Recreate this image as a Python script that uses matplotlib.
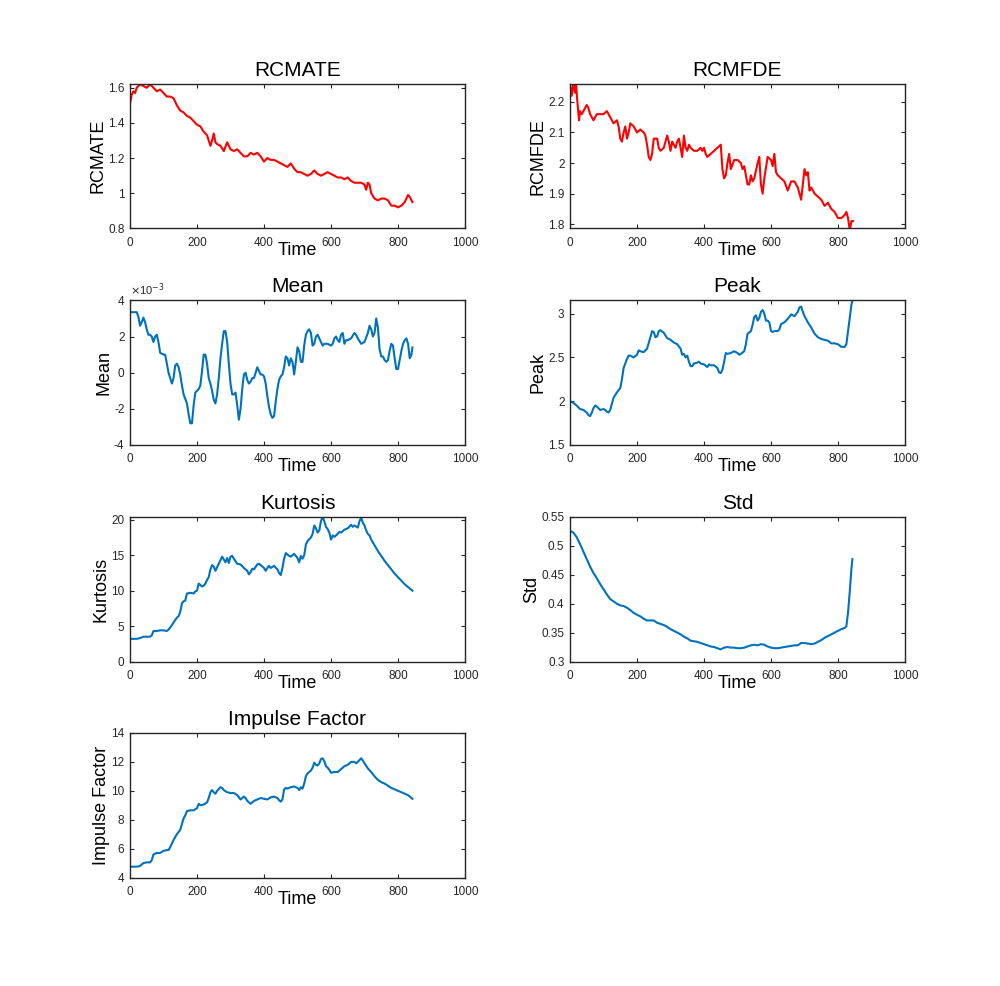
import matplotlib
matplotlib.use('Agg')
import matplotlib.pyplot as plt
from matplotlib.ticker import FuncFormatter

plt.rcParams['font.family'] = ['Liberation Sans', 'DejaVu Sans']
plt.rcParams['axes.unicode_minus'] = False

# (time, value) pairs
rcmate = [(0, 1.51), (5, 1.56), (10, 1.58), (15, 1.57), (20, 1.60), (25, 1.61), (30, 1.62),
          (40, 1.61), (50, 1.60), (60, 1.62), (70, 1.60), (80, 1.58), (90, 1.59), (100, 1.57),
          (110, 1.55), (120, 1.55), (130, 1.54), (140, 1.50), (150, 1.47), (160, 1.46),
          (170, 1.44), (180, 1.43), (190, 1.41), (200, 1.39), (210, 1.38), (220, 1.35),
          (230, 1.33), (240, 1.27), (245, 1.30), (250, 1.34), (255, 1.29), (260, 1.28),
          (270, 1.27), (280, 1.24), (290, 1.29), (300, 1.25), (310, 1.24), (320, 1.25),
          (330, 1.23), (340, 1.21), (350, 1.21), (360, 1.23), (370, 1.22), (380, 1.23),
          (390, 1.21), (400, 1.18), (410, 1.20), (420, 1.19), (430, 1.19), (440, 1.18),
          (450, 1.17), (460, 1.16), (470, 1.15), (480, 1.17), (490, 1.14), (500, 1.12),
          (510, 1.12), (520, 1.11), (530, 1.10), (540, 1.11), (550, 1.13), (560, 1.11),
          (570, 1.10), (580, 1.11), (590, 1.12), (600, 1.11), (610, 1.10), (620, 1.09),
          (630, 1.09), (640, 1.08), (650, 1.09), (660, 1.07), (670, 1.06), (680, 1.06),
          (690, 1.06), (700, 1.05), (705, 1.02), (710, 1.06), (715, 1.05), (720, 1.00),
          (730, 0.97), (740, 0.96), (750, 0.97), (760, 0.97), (770, 0.96), (780, 0.93),
          (790, 0.93), (800, 0.92), (810, 0.93), (820, 0.95), (830, 0.99), (835, 0.98),
          (843, 0.95)]

rcmfde = [(0, 2.26), (5, 2.22), (10, 2.26), (15, 2.23), (18, 2.26), (22, 2.20), (27, 2.14),
          (30, 2.17), (35, 2.16), (40, 2.17), (45, 2.18), (50, 2.19), (55, 2.18), (60, 2.16),
          (70, 2.14), (80, 2.16), (90, 2.16), (100, 2.16), (110, 2.17), (120, 2.15),
          (130, 2.13), (140, 2.14), (145, 2.12), (150, 2.08), (155, 2.07), (160, 2.10),
          (165, 2.12), (170, 2.08), (175, 2.10), (180, 2.13), (190, 2.12), (200, 2.10),
          (210, 2.11), (220, 2.10), (225, 2.09), (230, 2.06), (235, 2.02), (240, 2.01),
          (245, 2.03), (250, 2.08), (260, 2.08), (265, 2.05), (270, 2.04), (280, 2.05),
          (290, 2.09), (295, 2.07), (300, 2.04), (305, 2.07), (310, 2.06), (315, 2.05),
          (320, 2.07), (325, 2.08), (330, 2.05), (335, 2.02), (340, 2.09), (345, 2.05),
          (350, 2.04), (355, 2.06), (360, 2.05), (370, 2.04), (380, 2.04), (390, 2.05),
          (395, 2.04), (400, 2.05), (405, 2.03), (410, 2.02), (420, 2.03), (430, 2.04),
          (440, 2.05), (450, 2.06), (455, 1.98), (460, 1.95), (465, 1.96), (470, 2.00),
          (475, 2.03), (480, 1.98), (490, 2.01), (500, 2.01), (510, 2.00), (515, 1.98),
          (520, 1.99), (530, 1.93), (535, 1.93), (540, 1.96), (545, 1.94), (550, 1.95),
          (560, 2.00), (565, 2.02), (570, 1.93), (575, 1.90), (580, 1.95), (590, 2.02),
          (600, 2.01), (605, 1.99), (610, 2.03), (615, 1.97), (620, 1.96), (630, 1.95),
          (640, 1.94), (650, 1.91), (660, 1.94), (670, 1.94), (680, 1.92), (690, 1.88),
          (700, 1.98), (705, 1.96), (710, 1.97), (715, 1.91), (720, 1.92), (725, 1.91),
          (730, 1.90), (740, 1.89), (750, 1.88), (760, 1.86), (770, 1.87), (780, 1.85),
          (790, 1.84), (800, 1.82), (810, 1.82), (820, 1.83), (825, 1.84), (830, 1.82),
          (835, 1.78), (840, 1.81), (845, 1.81)]

# values in units of 1e-3
mean_e3 = [(0, 3.35), (10, 3.35), (20, 3.35), (25, 3.1), (30, 2.6), (35, 2.8), (40, 3.05),
           (45, 2.8), (50, 2.4), (55, 2.1), (60, 2.1), (65, 2.0), (70, 1.7), (75, 2.0),
           (80, 2.1), (85, 1.7), (90, 1.1), (100, 1.0), (105, 1.0), (110, 0.5), (115, 0.0),
           (120, -0.3), (125, -0.6), (130, -0.3), (135, 0.4), (140, 0.5), (145, 0.3),
           (150, -0.1), (155, -0.7), (160, -1.2), (170, -1.7), (175, -2.3), (180, -2.8),
           (185, -2.8), (190, -1.8), (195, -1.1), (205, -0.9), (210, -0.7), (215, 0.1),
           (220, 1.0), (225, 1.0), (230, 0.5), (235, -0.3), (240, -0.6), (245, -1.0),
           (250, -1.5), (255, -1.7), (260, -1.2), (265, -0.3), (270, 0.8), (275, 1.6),
           (280, 2.3), (285, 2.3), (290, 1.7), (295, 0.5), (300, -0.6), (305, -1.2),
           (310, -1.2), (315, -1.1), (320, -1.8), (325, -2.6), (330, -2.0), (335, -0.9),
           (340, -0.1), (345, 0.0), (350, -0.4), (355, -0.6), (360, -0.5), (365, -0.3),
           (370, -0.3), (375, 0.0), (380, 0.3), (385, 0.1), (390, -0.1), (395, -0.1),
           (400, -0.2), (405, -0.6), (410, -1.3), (415, -1.9), (420, -2.3), (425, -2.5),
           (430, -2.4), (435, -1.6), (440, -0.9), (445, -0.4), (450, -0.2), (455, -0.1),
           (460, 0.3), (465, 0.9), (470, 0.8), (475, 0.4), (480, 0.8), (485, 0.6),
           (490, -0.1), (495, 0.6), (500, 1.4), (505, 1.2), (510, 0.6), (515, 0.6),
           (520, 1.5), (525, 2.1), (530, 2.3), (535, 2.4), (540, 2.2), (545, 1.5),
           (550, 1.6), (555, 2.0), (560, 2.1), (565, 1.9), (570, 1.7), (575, 1.5),
           (580, 1.6), (590, 1.6), (600, 1.5), (605, 1.6), (610, 1.9), (615, 2.0),
           (620, 1.8), (625, 1.7), (630, 2.1), (635, 2.2), (640, 1.6), (645, 1.8),
           (650, 1.8), (660, 1.9), (670, 2.2), (675, 2.1), (680, 1.9), (690, 1.6),
           (700, 1.7), (710, 2.2), (715, 2.6), (720, 2.4), (725, 2.0), (730, 2.2),
           (735, 3.0), (740, 2.5), (745, 1.3), (750, 0.9), (755, 0.9), (760, 0.7),
           (765, 0.6), (770, 0.7), (775, 1.2), (780, 1.6), (785, 1.5), (790, 0.8),
           (795, 0.2), (800, 0.2), (805, 0.7), (810, 1.2), (815, 1.6), (820, 1.8),
           (825, 1.9), (830, 1.6), (835, 0.8), (840, 1.0), (843, 1.4)]

peak = [(0, 2.00), (10, 1.98), (20, 1.95), (30, 1.91), (40, 1.90), (50, 1.87), (55, 1.84),
        (60, 1.83), (65, 1.87), (70, 1.92), (75, 1.95), (80, 1.94), (90, 1.90), (100, 1.91),
        (105, 1.90), (110, 1.88), (115, 1.87), (120, 1.90), (125, 1.97), (130, 2.04),
        (140, 2.10), (150, 2.15), (155, 2.25), (160, 2.38), (170, 2.48), (175, 2.52),
        (180, 2.52), (190, 2.50), (200, 2.53), (205, 2.58), (210, 2.57), (220, 2.56),
        (230, 2.60), (240, 2.73), (245, 2.80), (250, 2.79), (255, 2.73), (260, 2.74),
        (265, 2.80), (270, 2.81), (280, 2.78), (290, 2.72), (300, 2.70), (310, 2.67),
        (320, 2.65), (330, 2.60), (335, 2.53), (340, 2.54), (345, 2.50), (350, 2.52),
        (355, 2.45), (360, 2.40), (365, 2.40), (370, 2.43), (380, 2.44), (385, 2.45),
        (390, 2.43), (400, 2.42), (410, 2.39), (415, 2.42), (420, 2.41), (430, 2.41),
        (440, 2.38), (445, 2.33), (450, 2.32), (455, 2.36), (460, 2.45), (465, 2.55),
        (470, 2.54), (480, 2.55), (490, 2.57), (500, 2.55), (505, 2.53), (510, 2.54),
        (520, 2.57), (525, 2.65), (530, 2.77), (540, 2.80), (545, 2.87), (550, 2.96),
        (555, 2.98), (560, 2.92), (565, 2.95), (570, 3.02), (575, 3.04), (580, 3.00),
        (585, 2.92), (590, 2.92), (595, 2.90), (600, 2.80), (605, 2.79), (610, 2.80),
        (620, 2.80), (625, 2.82), (630, 2.88), (640, 2.90), (650, 2.94), (660, 2.99),
        (670, 2.97), (680, 3.02), (685, 3.07), (690, 3.08), (695, 3.02), (700, 2.97),
        (710, 2.90), (720, 2.84), (730, 2.77), (740, 2.73), (750, 2.71), (760, 2.70),
        (770, 2.69), (780, 2.66), (790, 2.66), (800, 2.65), (810, 2.62), (820, 2.62),
        (825, 2.65), (830, 2.80), (835, 2.95), (840, 3.10), (843, 3.15)]

kurtosis = [(0, 3.2), (10, 3.2), (20, 3.2), (30, 3.3), (40, 3.5), (50, 3.5), (60, 3.5),
            (65, 3.7), (70, 4.3), (80, 4.3), (90, 4.4), (100, 4.4), (110, 4.3), (115, 4.5),
            (120, 4.8), (130, 5.5), (140, 6.2), (145, 6.4), (150, 7.0), (155, 8.2),
            (160, 8.5), (165, 8.6), (170, 9.6), (180, 9.7), (190, 9.6), (195, 9.9),
            (200, 10.0), (205, 11.0), (210, 10.8), (215, 10.6), (220, 10.7), (225, 11.0),
            (230, 11.5), (235, 11.9), (240, 13.0), (245, 13.6), (250, 13.4), (255, 12.8),
            (260, 13.3), (270, 14.3), (275, 14.8), (280, 14.4), (285, 14.0), (290, 14.6),
            (295, 13.9), (300, 14.8), (305, 14.9), (310, 14.5), (320, 13.8), (330, 13.7),
            (340, 13.2), (350, 12.8), (355, 12.3), (360, 12.6), (365, 13.1), (370, 13.0),
            (380, 13.7), (385, 13.8), (390, 13.6), (400, 13.2), (405, 12.8), (410, 13.2),
            (415, 13.5), (420, 13.2), (430, 13.5), (440, 13.0), (445, 12.5), (450, 12.2),
            (455, 13.2), (460, 14.5), (465, 15.3), (470, 15.1), (475, 14.9), (480, 14.8),
            (490, 15.2), (500, 14.6), (505, 14.0), (510, 14.9), (515, 14.5), (520, 15.0),
            (525, 16.5), (530, 17.0), (540, 17.5), (545, 18.0), (550, 19.2), (555, 18.8),
            (560, 18.2), (565, 18.5), (570, 19.8), (575, 20.4), (580, 19.8), (585, 19.0),
            (590, 18.7), (595, 18.2), (600, 17.2), (605, 17.8), (610, 17.6), (620, 18.0),
            (625, 18.3), (630, 18.2), (640, 18.6), (650, 18.8), (660, 19.3), (665, 19.0),
            (670, 19.2), (680, 18.9), (685, 19.8), (690, 20.3), (695, 19.6), (700, 19.2),
            (705, 18.5), (710, 18.0), (715, 17.8), (720, 17.2), (730, 16.4), (740, 15.6),
            (750, 14.9), (760, 14.2), (770, 13.6), (780, 13.0), (790, 12.4), (800, 11.9),
            (810, 11.4), (820, 10.9), (830, 10.5), (843, 10.0)]

std = [(0, 0.526), (10, 0.523), (20, 0.515), (30, 0.503), (40, 0.490), (50, 0.477),
       (60, 0.464), (70, 0.453), (80, 0.444), (90, 0.434), (100, 0.425), (110, 0.416),
       (120, 0.408), (130, 0.404), (140, 0.400), (150, 0.397), (160, 0.396), (170, 0.393),
       (180, 0.389), (190, 0.384), (200, 0.381), (210, 0.378), (220, 0.374), (230, 0.371),
       (240, 0.371), (250, 0.371), (260, 0.367), (270, 0.365), (280, 0.363), (290, 0.360),
       (300, 0.356), (310, 0.353), (320, 0.350), (330, 0.347), (340, 0.343), (350, 0.340),
       (360, 0.336), (370, 0.335), (380, 0.334), (390, 0.332), (400, 0.330), (410, 0.328),
       (420, 0.326), (430, 0.325), (440, 0.323), (450, 0.321), (460, 0.324), (470, 0.325),
       (480, 0.324), (490, 0.324), (500, 0.323), (510, 0.323), (520, 0.324), (530, 0.326),
       (540, 0.328), (550, 0.329), (560, 0.328), (570, 0.330), (580, 0.329), (590, 0.326),
       (600, 0.324), (610, 0.323), (620, 0.323), (630, 0.324), (640, 0.325), (650, 0.326),
       (660, 0.327), (670, 0.328), (680, 0.328), (690, 0.332), (700, 0.332), (710, 0.331),
       (720, 0.330), (730, 0.331), (740, 0.334), (750, 0.337), (760, 0.341), (770, 0.344),
       (780, 0.347), (790, 0.350), (800, 0.353), (810, 0.356), (820, 0.358), (825, 0.361),
       (830, 0.385), (835, 0.420), (840, 0.460), (843, 0.477)]

impulse = [(0, 4.75), (10, 4.75), (20, 4.75), (30, 4.8), (40, 5.0), (50, 5.05), (60, 5.05),
           (65, 5.2), (70, 5.6), (80, 5.7), (90, 5.7), (100, 5.85), (110, 5.9), (115, 5.9),
           (120, 6.1), (130, 6.6), (140, 7.0), (150, 7.3), (155, 7.7), (160, 8.1),
           (165, 8.3), (170, 8.6), (180, 8.65), (190, 8.65), (200, 8.8), (205, 9.1),
           (210, 9.0), (220, 9.05), (230, 9.2), (235, 9.5), (240, 9.9), (245, 10.05),
           (250, 9.9), (255, 9.8), (260, 10.0), (270, 10.25), (275, 10.2), (280, 10.05),
           (290, 9.9), (300, 9.85), (310, 9.85), (320, 9.7), (330, 9.4), (340, 9.6),
           (345, 9.5), (350, 9.3), (360, 9.1), (365, 9.2), (370, 9.3), (380, 9.4),
           (390, 9.5), (400, 9.45), (410, 9.4), (420, 9.55), (430, 9.6), (440, 9.5),
           (445, 9.35), (450, 9.25), (455, 9.4), (460, 10.1), (465, 10.2), (470, 10.15),
           (480, 10.25), (490, 10.3), (500, 10.2), (505, 10.05), (510, 10.25), (515, 10.15),
           (520, 10.5), (525, 11.0), (530, 11.2), (540, 11.4), (545, 11.6), (550, 11.95),
           (555, 11.8), (560, 11.75), (565, 11.9), (570, 12.2), (575, 12.25), (580, 12.05),
           (585, 11.7), (590, 11.6), (595, 11.45), (600, 11.25), (610, 11.3), (620, 11.3),
           (630, 11.5), (640, 11.7), (650, 11.8), (660, 12.0), (670, 12.0), (675, 11.9),
           (680, 12.0), (690, 12.25), (695, 12.1), (700, 11.9), (710, 11.55), (720, 11.3),
           (730, 11.0), (740, 10.75), (750, 10.6), (760, 10.5), (770, 10.35), (780, 10.2),
           (790, 10.1), (800, 10.0), (810, 9.9), (820, 9.8), (830, 9.7), (843, 9.45)]

RED = '#FF0000'
BLUE = '#0072BD'
AXC = '#262626'

# title, data, colour, scale, ylim, yticks, column, row
panels = [
    ('RCMATE', rcmate, RED, 1, (0.8, 1.622), [0.8, 1, 1.2, 1.4, 1.6], 0, 0),
    ('RCMFDE', rcmfde, RED, 1, (1.786, 2.259), [1.8, 1.9, 2, 2.1, 2.2], 1, 0),
    ('Mean', mean_e3, BLUE, 1e-3, (-4e-3, 4e-3), [-4e-3, -2e-3, 0, 2e-3, 4e-3], 0, 1),
    ('Peak', peak, BLUE, 1, (1.5, 3.15), [1.5, 2, 2.5, 3], 1, 1),
    ('Kurtosis', kurtosis, BLUE, 1, (0, 20.4), [0, 5, 10, 15, 20], 0, 2),
    ('Std', std, BLUE, 1, (0.3, 0.55), [0.3, 0.35, 0.4, 0.45, 0.5, 0.55], 1, 2),
    ('Impulse Factor', impulse, BLUE, 1, (4, 14), [4, 6, 8, 10, 12, 14], 0, 3),
]

lefts = [0.130, 0.570]
bottoms = [0.7683, 0.5487, 0.3291, 0.1100]
w, h = 0.335, 0.1466

fig = plt.figure(figsize=(10, 9.86), dpi=100)

for title, pts, color, scale, ylim, yticks, col, row in panels:
    ax = fig.add_axes([lefts[col], bottoms[row], w, h])
    t = [p[0] for p in pts]
    v = [p[1] * scale for p in pts]
    ax.plot(t, v, color=color, linewidth=1.5)
    ax.set_xlim(0, 1000)
    ax.set_xticks([0, 200, 400, 600, 800, 1000])
    ax.set_ylim(*ylim)
    ax.set_yticks(yticks)
    ax.set_title(title, fontsize=15, pad=6)
    ax.set_xlabel('Time', fontsize=13, labelpad=-5, color='black')
    ax.set_ylabel(title, fontsize=13, labelpad=1, color='black')
    ax.tick_params(direction='in', top=True, right=True, length=3, width=0.8,
                   labelsize=8.5, colors=AXC)
    ax.tick_params(axis='x', pad=6)
    ax.tick_params(axis='y', pad=4)
    for s in ax.spines.values():
        s.set_color(AXC)
        s.set_linewidth(1.0)
    # tick labels in units of `scale`, MATLAB-style exponent note above the axis
    ax.yaxis.set_major_formatter(FuncFormatter(lambda x, p, s=scale: '%g' % round(x / s, 6)))
    ax.xaxis.set_major_formatter(FuncFormatter(lambda x, p: '%g' % x))
    if scale != 1:
        ax.text(0.0, 1.015, r'$\times$10$^{-3}$', transform=ax.transAxes,
                fontsize=8, color=AXC, ha='left', va='bottom')

fig.savefig('out.png', dpi=100, facecolor='white')
